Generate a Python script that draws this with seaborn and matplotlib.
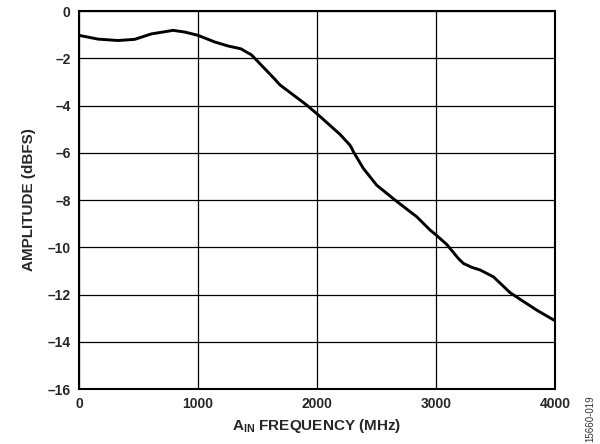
import matplotlib
matplotlib.use("Agg")
import matplotlib.pyplot as plt
import seaborn as sns
import pandas as pd

freq_mhz = [0, 160, 328, 468, 608, 790, 888, 1000, 1140, 1252, 1360, 1450,
            1530, 1644, 1689, 1800, 1913, 2011, 2193, 2277, 2291, 2305, 2389,
            2501, 2655, 2838, 2950, 3005, 3090, 3187, 3229, 3300, 3370, 3482,
            3560, 3622, 3706, 3846, 4000]
amp_dbfs = [-1.03, -1.19, -1.25, -1.20, -0.97, -0.82, -0.89, -1.03, -1.31,
            -1.48, -1.60, -1.86, -2.28, -2.88, -3.13, -3.55, -3.98, -4.40,
            -5.22, -5.68, -5.80, -5.95, -6.66, -7.37, -8.00, -8.71, -9.27,
            -9.50, -9.88, -10.47, -10.68, -10.85, -10.96, -11.25, -11.62,
            -11.92, -12.20, -12.66, -13.11]
x_ticks = [0, 1000, 2000, 3000, 4000]
y_ticks = [0, -2, -4, -6, -8, -10, -12, -14, -16]
y_tick_labels = ["0", "–2", "–4", "–6", "–8", "–10", "–12", "–14", "–16"]

sns.set_style("white")
plt.rcParams["font.family"] = ["Liberation Sans", "DejaVu Sans"]

df = pd.DataFrame({"f": freq_mhz, "a": amp_dbfs})

fig = plt.figure(figsize=(6.0, 4.44), dpi=100)
ax = fig.add_axes([79 / 600, 1 - 389 / 444, 476 / 600, 378 / 444])

sns.lineplot(data=df, x="f", y="a", ax=ax, color="black", linewidth=2.1,
             sort=True, zorder=3)
for line in ax.get_lines():
    line.set_solid_joinstyle("round")
    line.set_solid_capstyle("round")

ax.set_xlim(0, 4000)
ax.set_ylim(-16, 0)
ax.set_xticks(x_ticks)
ax.set_xticklabels([str(t) for t in x_ticks], fontsize=10, fontweight="bold")
ax.set_yticks(y_ticks)
ax.set_yticklabels(y_tick_labels, fontsize=10, fontweight="bold")
ax.tick_params(axis="both", length=0, pad=6)
ax.grid(True, color="black", linewidth=0.9)
for s in ax.spines.values():
    s.set_color("black")
    s.set_linewidth(1.5)

ax.set_xlabel(r"A$_{\mathregular{IN}}$ FREQUENCY (MHz)", fontsize=11,
              fontweight="bold", labelpad=4)
ax.set_ylabel("AMPLITUDE (dBFS)", fontsize=11, fontweight="bold", labelpad=8)

fig.text(0.992, 0.005, "15660-019", rotation=90, fontsize=7, color="#333333",
         ha="right", va="bottom")

fig.savefig("out.png", dpi=100)
